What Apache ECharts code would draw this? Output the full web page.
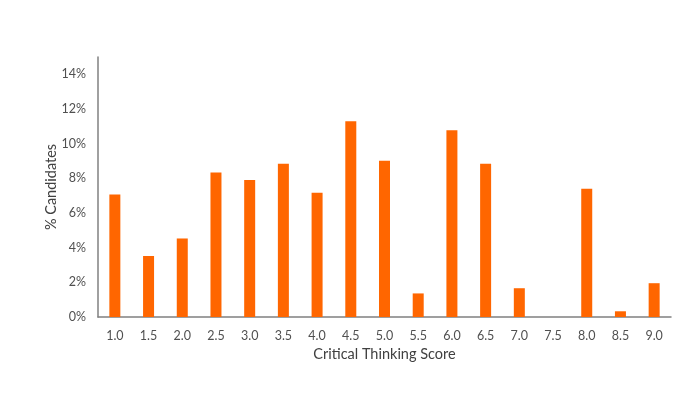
<!DOCTYPE html>
<html>
<head>
<meta charset="utf-8">
<script src="https://cdn.jsdelivr.net/npm/echarts@6/dist/echarts.min.js"></script>
<style>html,body{margin:0;padding:0;background:#fff}#c{width:683px;height:404px}</style>
</head>
<body>
<div id="c"></div>
<script>
const categories = ['1.0','1.5','2.0','2.5','3.0','3.5','4.0','4.5','5.0','5.5','6.0','6.5','7.0','7.5','8.0','8.5','9.0'];
const values = [7.07, 3.52, 4.53, 8.34, 7.90, 8.84, 7.17, 11.30, 9.01, 1.36, 10.77, 8.84, 1.66, 0, 7.40, 0.33, 1.95];
const xTitle = 'Critical Thinking Score';
const yTitle = '% Candidates';

const chart = echarts.init(document.getElementById('c'), null, {renderer: 'canvas'});
const font = 'Lato, "Open Sans", sans-serif';
chart.setOption({
  animation: false,
  grid: {left: 98, right: 12, top: 57, bottom: 87},
  xAxis: {
    type: 'category',
    data: categories,
    name: xTitle,
    nameLocation: 'middle',
    nameGap: 30,
    nameTextStyle: {fontFamily: font, fontSize: 14.5, color: '#404040'},
    axisLine: {lineStyle: {color: '#808080', width: 1.5}},
    axisTick: {show: false},
    axisLabel: {fontFamily: font, fontSize: 12.5, color: '#505050', margin: 12}
  },
  yAxis: {
    type: 'value',
    min: 0,
    max: 15,
    interval: 2,
    name: yTitle,
    nameLocation: 'middle',
    nameGap: 39,
    nameMoveOverlap: false,
    nameTextStyle: {fontFamily: font, fontSize: 14.5, color: '#404040'},
    axisLine: {show: true, lineStyle: {color: '#808080', width: 1.5}},
    axisTick: {show: false},
    splitLine: {show: false},
    axisLabel: {fontFamily: font, fontSize: 12.5, color: '#505050', margin: 12, showMaxLabel: false,
      formatter: v => v + '%'}
  },
  series: [{
    type: 'bar',
    data: values,
    barWidth: 11,
    itemStyle: {color: '#FF6600'}
  }]
});
</script>
</body>
</html>
